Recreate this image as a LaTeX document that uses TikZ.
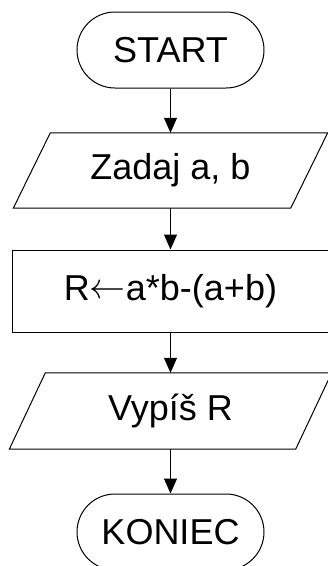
\RequirePackage{fix-cm}
\documentclass[tikz,border=0pt]{standalone}
\usepackage{fontspec}
\setmainfont{Liberation Sans}
\usetikzlibrary{arrows.meta}
\begin{document}
\begin{tikzpicture}[x=1pt,y=-1pt,
  every node/.style={font=\fontsize{36}{40}\selectfont, inner sep=0pt},
  term/.style={draw, line width=1pt, rounded corners=38pt, minimum width=187pt, minimum height=76pt},
  procbox/.style={draw, line width=1pt, minimum width=316pt, minimum height=82pt},
  iobox/.style={minimum height=76pt},
  para/.style={line width=1pt},
  arr/.style={line width=1pt, -{Triangle[length=15pt,width=13pt]}}]
\useasboundingbox (0,0) rectangle (328,566);
\node[term] (start) at (170.5,50) {START};
\node[iobox, minimum width=277pt, minimum height=75pt] (in) at (170.5,170.5) {Zadaj a, b};
\draw[para] ([xshift=18.5pt]in.north west) -- ([xshift=18.5pt]in.north east) -- ([xshift=-18.5pt]in.south east) -- ([xshift=-18.5pt]in.south west) -- cycle;
\node[procbox] (calc) at (170.5,291) {R\raisebox{2pt}{$\leftarrow$}a*b-(a+b)};
\node[iobox, minimum width=286pt] (out) at (170.5,411) {Vypíš R};
\draw[para] ([xshift=18pt]out.north west) -- ([xshift=18pt]out.north east) -- ([xshift=-18pt]out.south east) -- ([xshift=-18pt]out.south west) -- cycle;
\node[term] (end) at (170.5,532) {KONIEC};
\draw[arr] (start.south) -- (in.north);
\draw[arr] (in.south) -- (calc.north);
\draw[arr] (calc.south) -- (out.north);
\draw[arr] (out.south) -- (end.north);
\end{tikzpicture}
\end{document}
